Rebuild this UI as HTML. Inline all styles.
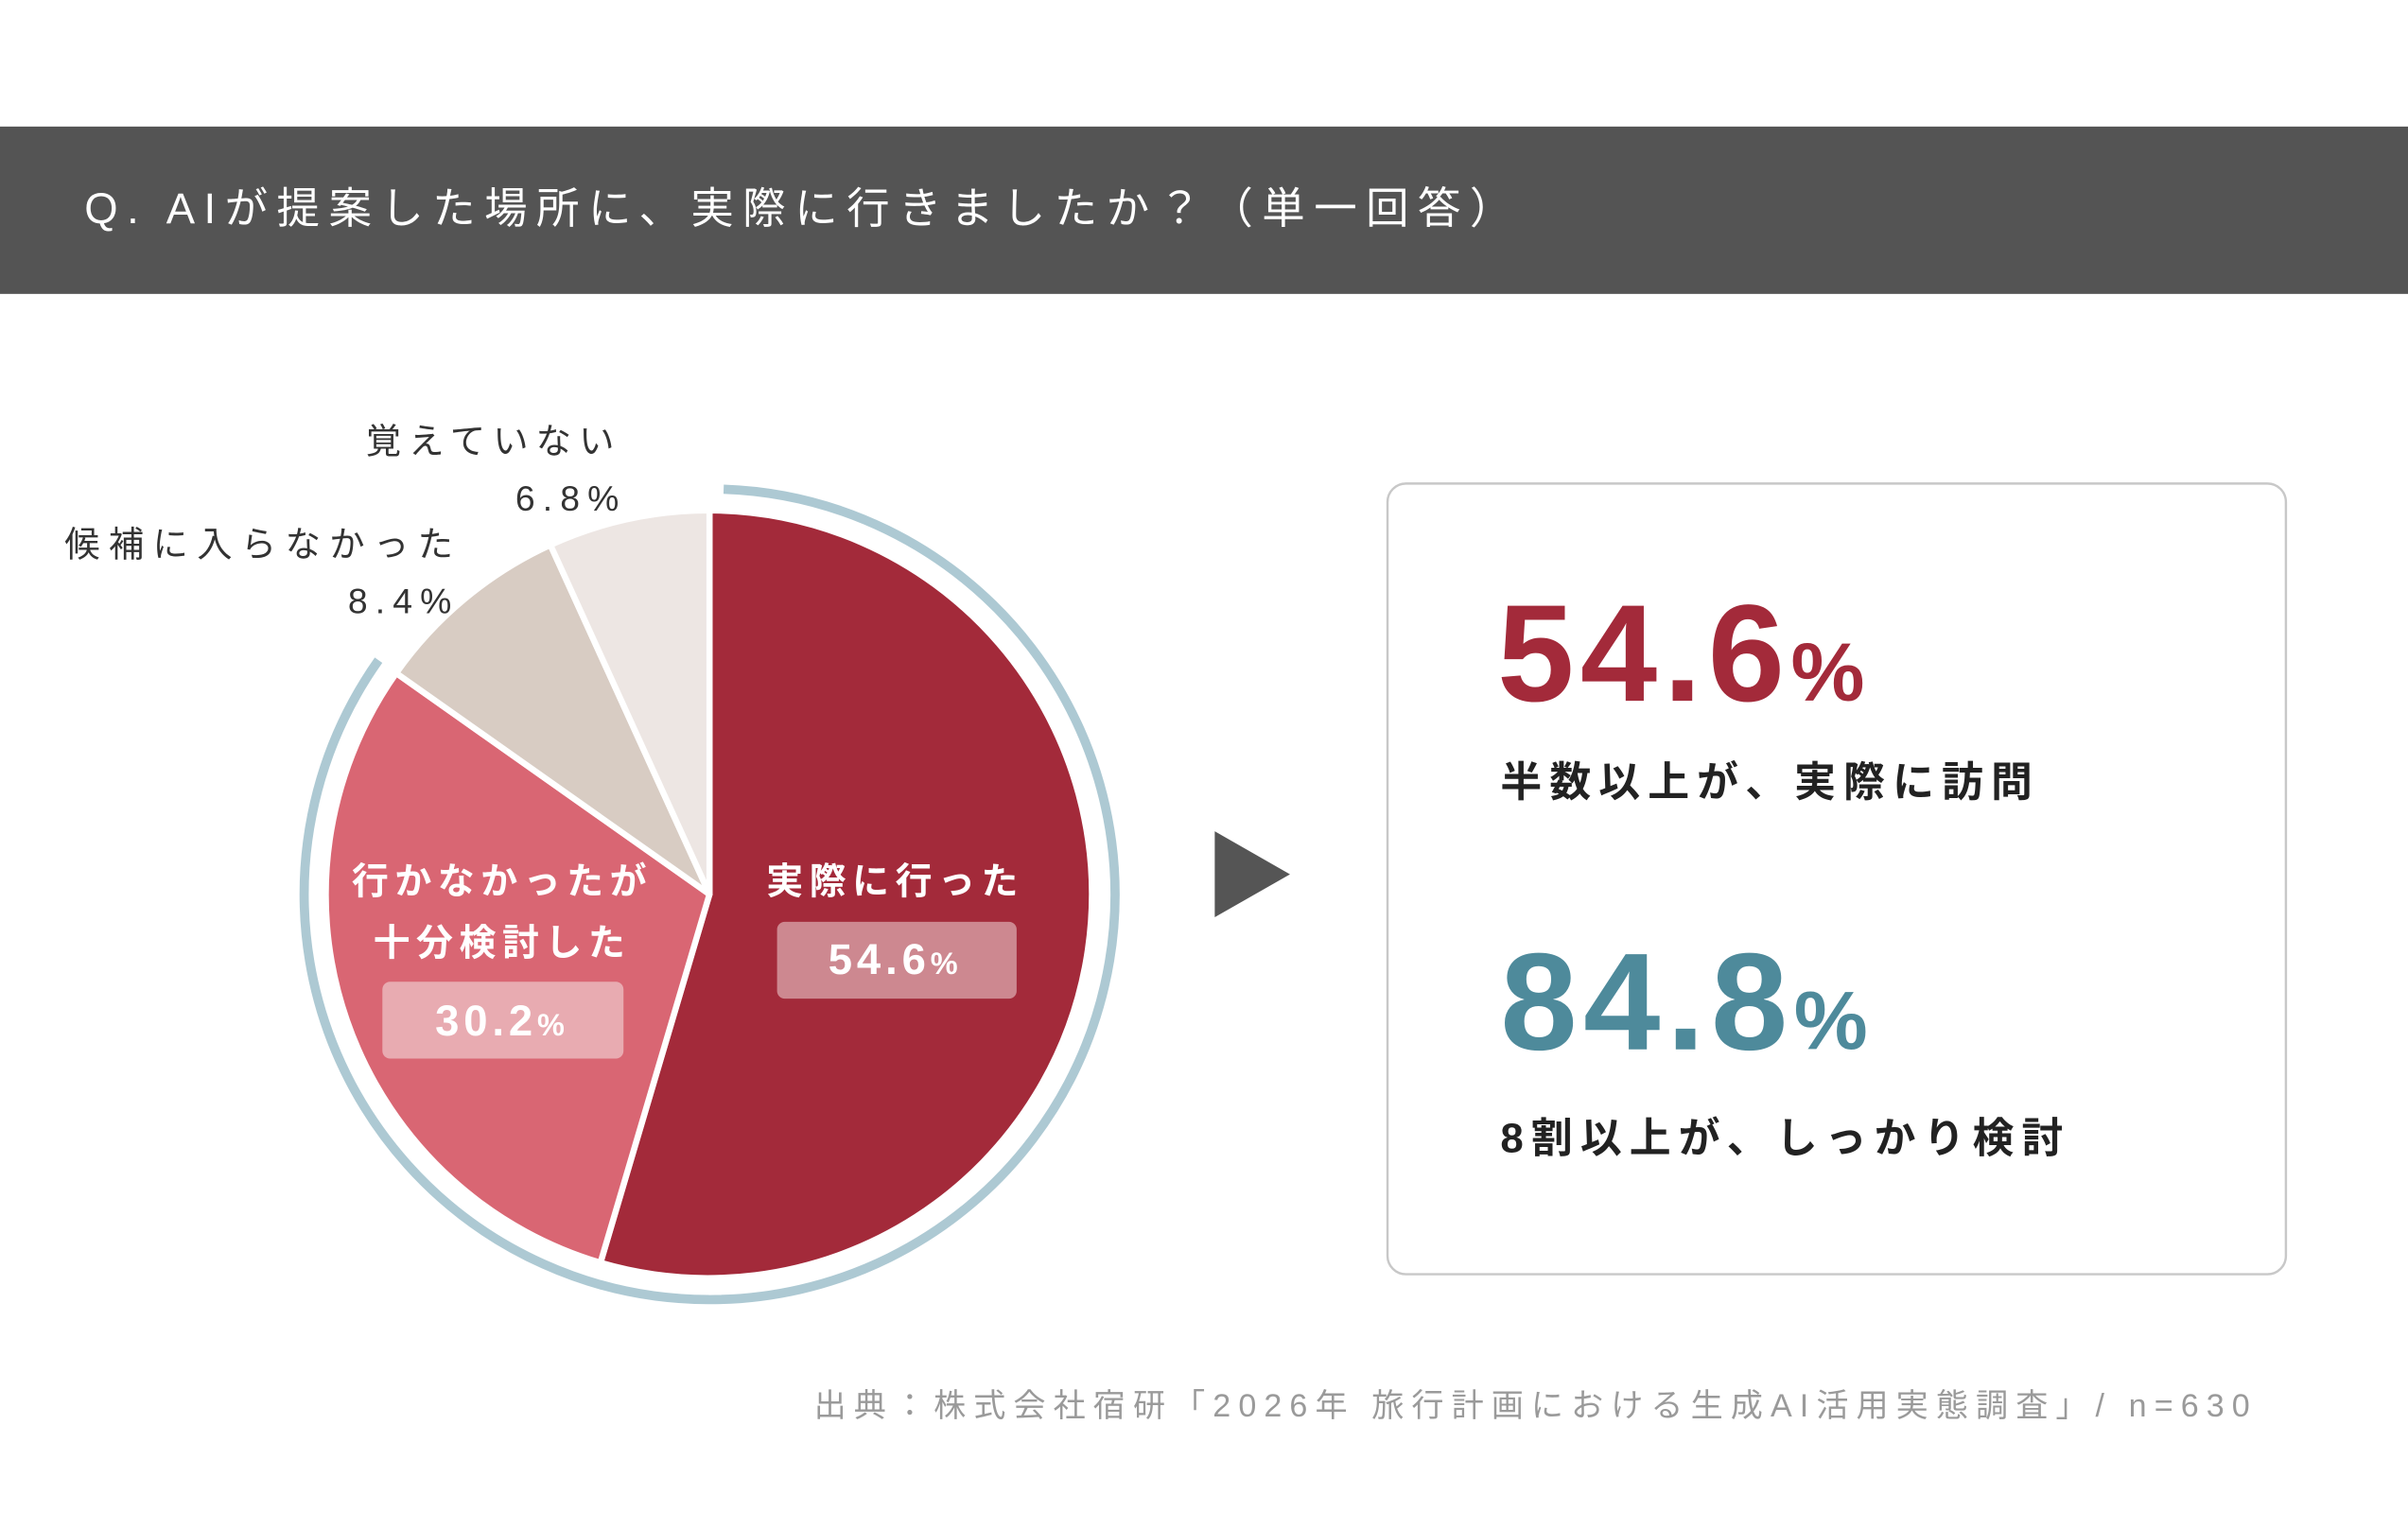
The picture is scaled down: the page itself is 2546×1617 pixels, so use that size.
<!DOCTYPE html>
<html><head><meta charset="utf-8"><style>
html,body{margin:0;padding:0;background:#fff;}
svg{display:block;}
text{font-family:"Liberation Sans","Noto Sans CJK JP",sans-serif;}
</style></head><body>
<svg width="2546" height="1617" viewBox="0 0 1568 995" xmlns="http://www.w3.org/2000/svg">
<rect x="0" y="0" width="1568" height="995" fill="#fff"/>
<rect x="0" y="82" width="1568" height="109" fill="#545454"/>
<text x="55" y="145" font-size="28" fill="#fff" textLength="930" lengthAdjust="spacing">Q. AIが提案した場所に、実際に行きましたか？（単一回答）</text>

<path d="M471.2 318.2 A264 264 0 1 1 246.5 429.6" fill="none" stroke="#adc9d3" stroke-width="6"/>
<g stroke="#fff" stroke-width="4" stroke-linejoin="round">
<path d="M462 582 L462 332 A250 250 0 1 1 391 822 Z" fill="#a32a3a"/>
<path d="M462 582 L391 822 A250 250 0 0 1 258 438 Z" fill="#d96673"/>
<path d="M462 582 L258 438 A250 250 0 0 1 358.4 354.5 Z" fill="#d8ccc3"/>
<path d="M462 582 L358.4 354.5 A250 250 0 0 1 462 332 Z" fill="#ede6e3"/>
</g>

<text x="583" y="582" font-size="24" font-weight="bold" fill="#fff" text-anchor="middle" letter-spacing="4">実際に行った</text>
<rect x="506" y="600" width="156" height="50" rx="5" fill="#cd8890"/>
<text x="583" y="634" font-size="28" font-weight="bold" fill="#fff" text-anchor="middle" letter-spacing="3">54.6<tspan font-size="20">%</tspan></text>

<text x="327" y="582" font-size="24" font-weight="bold" fill="#fff" text-anchor="middle" letter-spacing="4">行かなかったが</text>
<text x="327" y="622" font-size="24" font-weight="bold" fill="#fff" text-anchor="middle" letter-spacing="4">十分検討した</text>
<rect x="249" y="639" width="157" height="50" rx="5" fill="#e8abb1"/>
<text x="327" y="674" font-size="28" font-weight="bold" fill="#fff" text-anchor="middle" letter-spacing="3">30.2<tspan font-size="20">%</tspan></text>

<text x="405" y="295" font-size="23" fill="#333" text-anchor="end" letter-spacing="5">覚えていない</text>
<text x="408" y="332" font-size="23" fill="#333" text-anchor="end" letter-spacing="5">6.8%</text>
<text x="42" y="362" font-size="23" fill="#333" textLength="253" lengthAdjust="spacing">候補に入らなかった</text>
<text x="299" y="399" font-size="23" fill="#333" text-anchor="end" letter-spacing="5">8.4%</text>

<polygon points="791,541 791,597 840,569" fill="#555"/>

<rect x="903.5" y="314.5" width="585" height="515" rx="12" fill="#fff" stroke="#c8c8c8" stroke-width="1.5"/>
<text x="975" y="456" font-size="90" font-weight="bold" fill="#a32a3a" letter-spacing="4">54.6<tspan font-size="54" letter-spacing="0">%</tspan></text>
<text x="977" y="518" font-size="27" font-weight="bold" fill="#222" letter-spacing="5">半数以上が、実際に訪問</text>
<text x="977" y="683" font-size="90" font-weight="bold" fill="#4e8a9b" letter-spacing="4">84.8<tspan font-size="54" letter-spacing="0">%</tspan></text>
<text x="977" y="750" font-size="27" font-weight="bold" fill="#222" letter-spacing="5">8割以上が、しっかり検討</text>

<text x="530" y="922" font-size="21" fill="#9a9a9a" textLength="935" lengthAdjust="spacing">出典：株式会社宿研「2026年 旅行計画における生成AI活用実態調査」/ n=630</text>
</svg>
</body></html>
